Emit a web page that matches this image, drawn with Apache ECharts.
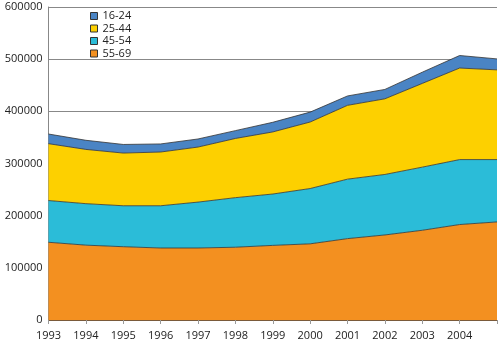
<!DOCTYPE html>
<html><head><meta charset="utf-8">
<script src="https://cdn.jsdelivr.net/npm/echarts@6/dist/echarts.min.js"></script>
<style>html,body{margin:0;padding:0;background:#fff}#c{width:500px;height:343px}</style>
</head><body><div id="c"></div>
<script>
const years = ['1993','1994','1995','1996','1997','1998','1999','2000','2001','2002','2003','2004','2005'];
const s55_69 = [149000,143500,140500,138000,138000,139500,143000,146000,156000,163000,172000,183000,188000];
const s45_54 = [80000,79500,78500,81000,88000,95000,98500,106000,114000,116000,121000,124500,119500];
const s25_44 = [109000,104000,101000,103000,105500,113500,119000,127500,141500,145000,160500,175500,172000];
const s16_24 = [18500,17500,16500,15500,15500,15000,18500,19000,18000,18000,21500,24000,21000];
const yTicks = [0,100000,200000,300000,400000,500000,600000];
const names = ['55-69','45-54','25-44','16-24'];
const colors = ['#F39020','#2BBCD8','#FDD000','#4A84C4'];
const data = [s55_69,s45_54,s25_44,s16_24];

const chart = echarts.init(document.getElementById('c'));
const font = 'Open Sans, Noto Sans, sans-serif';
chart.setOption({
  animation:false,
  textStyle:{fontFamily:font},
  grid:{left:48.5,right:0,top:7,bottom:23,containLabel:false},
  legend:{
    orient:'vertical', left:90, top:10, itemWidth:7, itemHeight:7, itemGap:0.5,
    padding:0,
    data:['16-24','25-44','45-54','55-69'],
    textStyle:{fontSize:11,color:'#222',fontFamily:font,lineHeight:12},
    itemStyle:{borderColor:'#333',borderWidth:1},
    icon:'rect'
  },
  xAxis:{
    type:'category', data:years, boundaryGap:false,
    axisLine:{lineStyle:{color:'#7a5a3a',width:1}},
    axisTick:{show:true,length:4,lineStyle:{color:'#999'}},
    axisLabel:{fontSize:11,color:'#222',margin:10,fontFamily:font,
      formatter:(v,i)=> i===years.length-1?'':v},
    splitLine:{show:false}
  },
  yAxis:{
    type:'value', min:yTicks[0], max:yTicks[yTicks.length-1], interval:100000,
    axisLine:{show:true,lineStyle:{color:'#888'}},
    axisTick:{show:false},
    axisLabel:{fontSize:11,color:'#222',margin:6,fontFamily:font,
      formatter:(v)=>String(v)},
    splitLine:{lineStyle:{color:'#888',width:1}}
  },
  series: names.map((n,i)=>({
    name:n, type:'line', stack:'t', data:data[i], symbol:'none',
    lineStyle:{color:'#333',width:0.8},
    itemStyle:{color:colors[i]},
    areaStyle:{color:colors[i],opacity:1}
  }))
});
</script></body></html>
